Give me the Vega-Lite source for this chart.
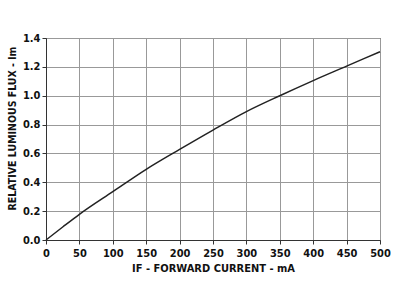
{
  "$schema": "https://vega.github.io/schema/vega-lite/v6.json",
  "width": 334,
  "height": 202,
  "autosize": "none",
  "padding": {"left": 46, "top": 38, "right": 25, "bottom": 47},
  "background": "white",
  "config": {
    "view": {"stroke": "#333333", "strokeWidth": 1},
    "font": "DejaVu Sans Condensed, Liberation Sans, sans-serif"
  },
  "data": {
    "values": [
      {"current": 0, "flux": 0},
      {"current": 25, "flux": 0.09},
      {"current": 50, "flux": 0.178},
      {"current": 100, "flux": 0.335},
      {"current": 150, "flux": 0.49},
      {"current": 200, "flux": 0.628},
      {"current": 250, "flux": 0.762},
      {"current": 300, "flux": 0.89},
      {"current": 350, "flux": 1.0},
      {"current": 400, "flux": 1.105},
      {"current": 450, "flux": 1.205},
      {"current": 500, "flux": 1.305}
    ]
  },
  "mark": {"type": "line", "color": "#222222", "strokeWidth": 1.5, "interpolate": "monotone"},
  "encoding": {
    "x": {
      "field": "current", "type": "quantitative",
      "scale": {"domain": [0, 500], "nice": false},
      "axis": {
        "values": [0, 50, 100, 150, 200, 250, 300, 350, 400, 450, 500],
        "title": "IF - FORWARD CURRENT - mA",
        "titleFont": "DejaVu Sans Condensed, Liberation Sans, sans-serif", "titleFontSize": 11, "titleFontWeight": "bold", "titleColor": "#111",
        "titlePadding": 4,
        "labelFont": "DejaVu Sans Condensed, Liberation Sans, sans-serif", "labelFontSize": 11, "labelFontWeight": "bold", "labelColor": "#111",
        "labelPadding": 3, "labelFlush": false, "labelOverlap": false,
        "grid": true, "gridColor": "#999999", "gridWidth": 1,
        "domain": true, "domainColor": "#333", "tickColor": "#333", "tickSize": 4
      }
    },
    "y": {
      "field": "flux", "type": "quantitative",
      "scale": {"domain": [0, 1.4], "nice": false},
      "axis": {
        "values": [0, 0.2, 0.4, 0.6, 0.8, 1.0, 1.2, 1.4],
        "format": ".1f",
        "title": "RELATIVE LUMINOUS FLUX - lm",
        "titleFont": "DejaVu Sans Condensed, Liberation Sans, sans-serif", "titleFontSize": 10.5, "titleFontWeight": "bold", "titleColor": "#111",
        "titleX": -29, "titleY": 90,
        "labelFont": "DejaVu Sans Condensed, Liberation Sans, sans-serif", "labelFontSize": 11, "labelFontWeight": "bold", "labelColor": "#111",
        "labelPadding": 2, "labelFlush": false,
        "grid": true, "gridColor": "#999999", "gridWidth": 1,
        "domain": true, "domainColor": "#333", "tickColor": "#333", "tickSize": 4
      }
    }
  }
}
